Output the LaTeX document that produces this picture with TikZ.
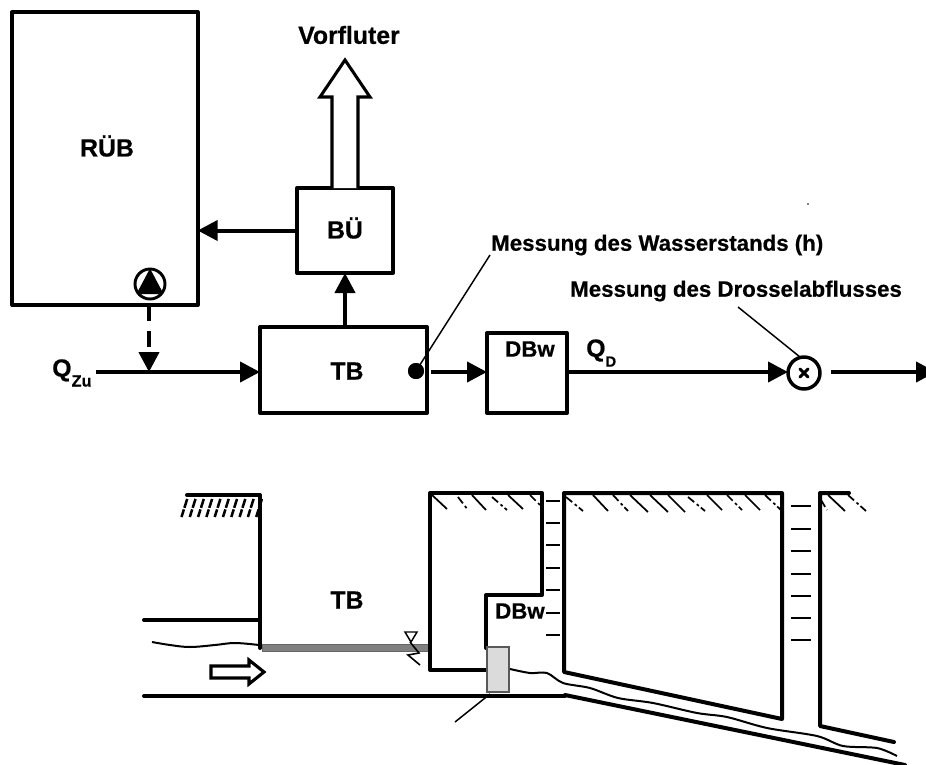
\documentclass[tikz,border=0pt]{standalone}
\usepackage{fontspec}
\setmainfont[BoldFeatures={FakeBold=0.6}]{Liberation Sans}
\usetikzlibrary{arrows.meta}
\tikzset{
  x=0.75pt,y=-0.75pt,
  blockbox/.style={draw=black,line width=3pt,rectangle,inner sep=0pt,outer sep=0pt,line join=round},
  flow/.style={line width=3pt,-{Triangle[length=15pt,width=15pt]}},
  flowdash/.style={line width=3pt,dash pattern=on 12pt off 7.5pt,-{Triangle[length=15pt,width=15pt]}},
  leader/.style={line width=1.1pt},
  biglabel/.style={inner sep=0pt,font=\bfseries\fontsize{18.6}{22}\selectfont},
  midlabel/.style={inner sep=0pt,font=\bfseries\fontsize{16.7}{20}\selectfont},
  hollow/.style={draw=black,line width=2.3pt,fill=white,line join=miter},
  wall/.style={line width=3pt,line cap=round,line join=round},
  thinwall/.style={line width=1.6pt},
  wave/.style={line width=1.5pt},
  hatchsolid/.style={line width=1.3pt},
  hatchdash/.style={line width=1.3pt,dash pattern=on 6pt off 2.5pt on 2pt off 2pt},
}
\newcommand{\subQ}[2]{Q\raisebox{-0.4em}{\fontsize{#2}{15}\selectfont #1}}
\begin{document}
\begin{tikzpicture}
\useasboundingbox (0,0) rectangle (926,765);
\clip (0,0) rectangle (926,765);
% --- block diagram ---
\node[blockbox,minimum width=139pt,minimum height=219.75pt] (rueb) at (105,158.5) {};
\node[biglabel] (ruebtxt) at (107,146) {RÜB};
\node[blockbox,minimum width=72pt,minimum height=63.75pt] (bue) at (345,230.5) {};
\node[biglabel] (buetxt) at (345,228) {BÜ};
\node[blockbox,minimum width=125.25pt,minimum height=64.5pt] (tb) at (343.5,370) {};
\node[biglabel] (tbtxt) at (347,371) {TB};
\node[blockbox,minimum width=60pt,minimum height=60pt] (dbw) at (527,373) {};
\node[midlabel] (dbwtxt) at (530,349) {DBw};
\node[biglabel,anchor=west] (qzu) at (52,373) {\subQ{Zu}{12.3}};
\node[biglabel,anchor=west] (qd) at (586,353) {\subQ{D}{11}};
\node[biglabel] (vorf) at (349,35) {Vorfluter};
\node[midlabel,anchor=west] (mw) at (491,245) {Messung des Wasserstands (h)};
\node[midlabel,anchor=west] (md) at (570,291) {Messung des Drosselabflusses};
% pump
\node[circle,draw=black,line width=2.2pt,fill=white,minimum size=22.5pt,inner sep=0pt,outer sep=0pt] (pump) at (150,284) {};
\fill[black] (150,268.5) -- (162.5,292) -- (159,294) -- (141,294) -- (137.5,292) -- cycle;
% sensors
\node[circle,fill=black,minimum size=12pt,inner sep=0pt,outer sep=0pt] (dot) at (416,371) {};
\node[circle,draw=black,line width=2.6pt,fill=white,minimum size=24pt,inner sep=0pt,outer sep=0pt] (qm) at (804,373) {};
\draw[line width=2.2pt,line cap=round] (800,369) -- (808,377) (808,369) -- (800,377);
\fill[black] (808,204) circle (0.7pt);
% coordinates
\coordinate (qzustart) at (96,372);
\coordinate (junction) at (149,372);
\coordinate (tbin) at (tb.west |- qzustart);
\coordinate (dotout) at (431,372);
\coordinate (qmout) at (831,372);
\coordinate (end) at (936,372);
\coordinate (pumpdown) at (149,305);
\coordinate (mwend) at (490,255);
\coordinate (mdend) at (738,307);
% connectors
\draw[flow] (qzustart) -- (tbin);
\draw[flowdash] (pumpdown) -- (junction);
\draw[flow] (tb.north -| bue.south) -- (bue.south);
\draw[flow] (bue.west) -- (rueb.east |- bue.west);
\draw[flow] (dotout) -- (dotout -| dbw.west);
\draw[flow] (dbw.east |- qzustart) -- (qm.west |- qzustart);
\draw[line width=3pt,-{Triangle[length=15pt,width=15pt]}] (qmout) -- (end);
\draw[leader] (dot.center) -- (mwend);
\draw[leader] (qm.north) ++(-4,0) -- (mdend);
\fill[black] (dot) circle (6pt);
% hollow arrow to Vorfluter
\draw[hollow] (332,188) -- (332,97) -- (320,97) -- (345,60) -- (370,97) -- (358,97) -- (358,188);
%
% --- section ---
\node[biglabel] (tbsec) at (347,600) {TB};
\node[midlabel] (dbwsec) at (520,611) {DBw};
% left wall & pipe
\draw[wall] (187,495) -- (260,495) -- (260,648);
\draw[wall] (144,620) -- (260,620);
\draw[wall] (144,696) -- (565,696);
\foreach \i in {0,...,9}{
  \draw[line width=1.9pt,dash pattern=on 6pt off 1.2pt on 7pt off 1pt] ({181.5+8.3*\i},517) -- ({187.5+8.3*\i},498);
}
% water
\draw[wave] plot[smooth,tension=.6] coordinates {(152,642) (170,645) (190,647) (215,645) (235,643) (259,645)};
\fill[gray,draw=black!60,line width=0.6pt] (262,644) rectangle (430,651);
% level mark
\draw[line width=1.1pt,fill=white] (405,632) -- (417,632) -- (411,642) -- cycle;
\draw[line width=1.2pt] (410,642) -- (419,653) -- (408,655) -- (420,665);
% flow arrow
\draw[hollow] (211,666) -- (249,666) -- (249,660) -- (264,672) -- (249,684) -- (249,678) -- (211,678) -- cycle;
% TB/DBw block
\draw[wall] (486,648) -- (486,595) -- (542,595) -- (542,493) -- (430,493) -- (430,670) -- (486,670);
% gate
\fill[black!14,draw=black!65,line width=0.8pt] (487,647) rectangle (509,692);
\draw[leader] (490,694) -- (455,722);
% right blocks
\draw[wall] (564,672) -- (564,493) -- (782,493) -- (782,719) -- cycle;
\draw[wall] (849,493) -- (820,493) -- (820,726) -- (894,742);
\draw[wall] (565,695) -- (905,765);
\draw[wave] plot[smooth,tension=.5] coordinates {(510,669) (530,673) (547,673) (563,683) (590,688) (618,698) (653,703) (697,713) (727,717) (767,728) (817,736) (843,746) (877,748) (897,756)};
% ladders
\foreach \y in {501,523,545,568,590,613,635}{\draw[thinwall] (546,\y) -- (560,\y);}
\foreach \y in {506,529,551,574,596,618,640}{\draw[thinwall] (791,\y) -- (811,\y);}
% hatches
\foreach \a/\b/\c/\d in {432/495/447/509,472/495/486/510,508/495/523/509,593/495/608/511,630/495/648/512,650/495/668/512,668/495/685/512,707/495/722/510,745/495/760/510,828/495/845/511}{\draw[hatchsolid] (\a,\b) -- (\c,\d);}
\foreach \a/\b/\c/\d in {458/497/468/510,492/497/507/510,530/495/540/505,566/497/583/511,613/495/628/511,688/497/705/511,727/495/742/510,765/495/782/511,821/500/827/510,848/495/866/511}{\draw[hatchdash] (\a,\b) -- (\c,\d);}
\end{tikzpicture}
\end{document}
